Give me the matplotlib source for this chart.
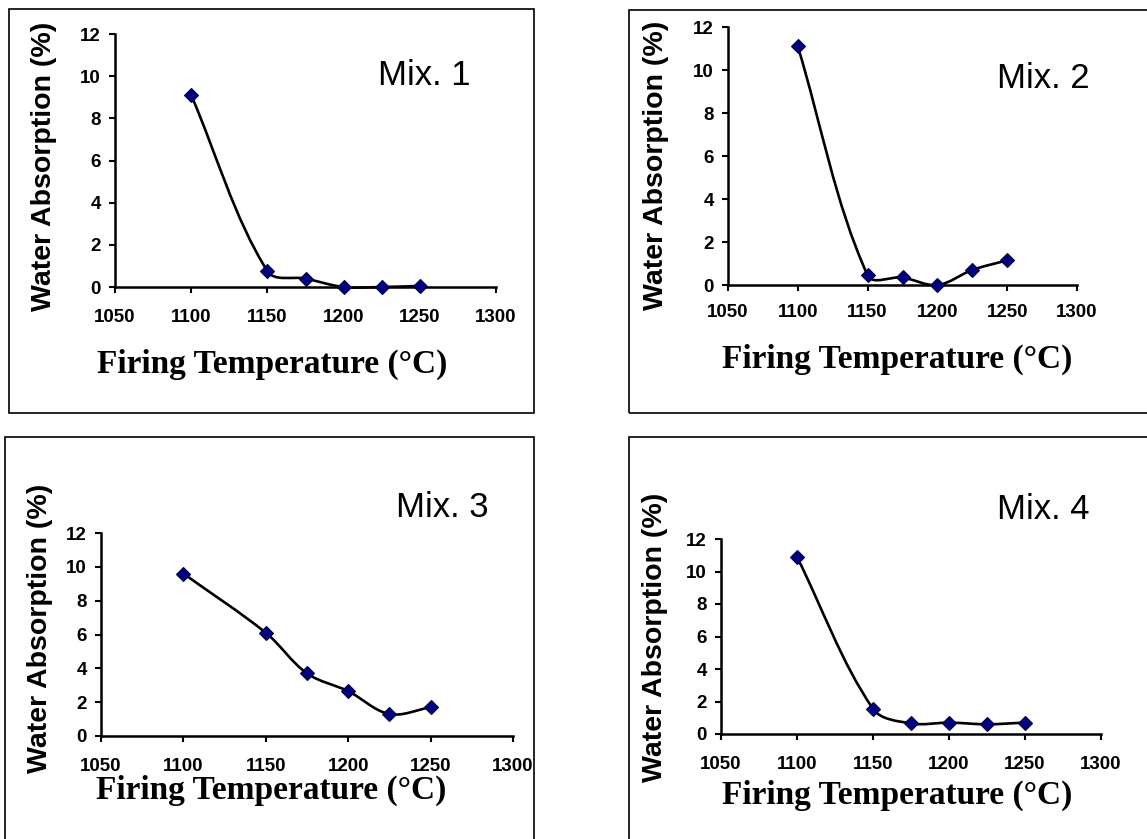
import numpy as np
import matplotlib
matplotlib.use("Agg")
from matplotlib import pyplot as plt
from matplotlib.path import Path
from matplotlib.patches import PathPatch, Rectangle

## DATA
temperature = [1100, 1150, 1175, 1200, 1225, 1250]
mix1 = [9.1, 0.75, 0.4, 0.0, 0.0, 0.05]
mix2 = [11.1, 0.45, 0.35, 0.0, 0.7, 1.15]
mix3 = [9.6, 6.1, 3.7, 2.65, 1.3, 1.7]
mix4 = [10.9, 1.55, 0.65, 0.7, 0.6, 0.7]
mix_names = ["Mix. 1", "Mix. 2", "Mix. 3", "Mix. 4"]
x_ticks = [1050, 1100, 1150, 1200, 1250, 1300]
y_ticks = [0, 2, 4, 6, 8, 10, 12]
x_label = "Firing Temperature (°C)"
y_label = "Water Absorption (%)"

W, H = 1147, 839

# layout in pixels (top-down): box, axes (left, top, right, bottom), ylabel centre,
# xlabel centre/baseline, mix text left/baseline, x tick pad
panels = [
    dict(box=(9, 9, 534, 413), ax=(115, 34, 496, 287), yl=(44, 166), xl=(272, 373), mix=(378, 85), pad=12),
    dict(box=(629, 10, 1160, 413), ax=(728, 27, 1077, 285), yl=(656, 165), xl=(897, 368), mix=(997, 88), pad=10),
    dict(box=(5, 437, 534, 850), ax=(101, 533, 513, 736), yl=(40, 628), xl=(271, 799), mix=(396, 517), pad=12),
    dict(box=(629, 437, 1160, 850), ax=(721, 539, 1101, 734), yl=(655, 637), xl=(897, 804), mix=(997, 519), pad=12),
]
series = [mix1, mix2, mix3, mix4]


def fx(x):
    return x / W


def fy(y):
    return 1 - y / H


def smooth_path(ax, xs, ys, k=1.0):
    # excel-like smoothed line: bezier segments built in screen space
    pts = ax.transData.transform(np.column_stack([xs, ys]))
    n = len(pts)
    verts = [pts[0]]
    codes = [Path.MOVETO]
    for i in range(n - 1):
        p0 = pts[max(i - 1, 0)]
        p1 = pts[i]
        p2 = pts[i + 1]
        p3 = pts[min(i + 2, n - 1)]
        d = np.linalg.norm(p2 - p1)
        t1 = (p2 - p0) / np.linalg.norm(p2 - p0)
        t2 = (p3 - p1) / np.linalg.norm(p3 - p1)
        verts += [p1 + t1 * d / 3 * k, p2 - t2 * d / 3 * k, p2]
        codes += [Path.CURVE4] * 3
    verts = ax.transData.inverted().transform(np.array(verts))
    return Path(verts, codes)


fig = plt.figure(figsize=(W / 100, H / 100), dpi=100)
fig.patch.set_facecolor("white")

for p, values, name in zip(panels, series, mix_names):
    x0, y0, x1, y1 = p["box"]
    fig.add_artist(Rectangle((fx(x0), fy(y1)), fx(x1 - x0), (y1 - y0) / H,
                             transform=fig.transFigure, fill=False, ec="black", lw=1.2))

    l, t, r, b = p["ax"]
    ax = fig.add_axes([fx(l), fy(b), fx(r - l), (b - t) / H])
    ax.set_xlim(1050, 1300)
    ax.set_ylim(0, 12)
    ax.set_autoscale_on(False)
    ax.set_xticks(x_ticks)
    ax.set_yticks(y_ticks)
    for s in ["top", "right"]:
        ax.spines[s].set_visible(False)
    for s in ["left", "bottom"]:
        ax.spines[s].set_linewidth(1.8)
    ax.tick_params(direction="out", length=4, width=1.5, labelsize=13.5)
    ax.tick_params(axis="x", pad=p["pad"])
    ax.tick_params(axis="y", pad=6)
    for lab in ax.get_xticklabels() + ax.get_yticklabels():
        lab.set_fontfamily("Liberation Sans")
        lab.set_fontweight("bold")

    ax.add_patch(PathPatch(smooth_path(ax, temperature, values), fill=False,
                           ec="black", lw=1.9, clip_on=False, zorder=3))
    ax.plot(temperature, values, linestyle="none", marker="D", ms=7,
            mfc="#000080", mec="#000040", mew=0.8, clip_on=False, zorder=4)

    fig.text(fx(p["yl"][0]), fy(p["yl"][1]), y_label, rotation=90, ha="center", va="center",
             fontsize=20.5, fontweight="bold", family="Liberation Sans")
    fig.text(fx(p["xl"][0]), fy(p["xl"][1]), x_label, ha="center", va="baseline",
             fontsize=24, fontweight="bold", family="Liberation Serif")
    fig.text(fx(p["mix"][0]), fy(p["mix"][1]), name, ha="left", va="baseline",
             fontsize=25, family="Liberation Sans")

fig.savefig("out.png", dpi=100)
